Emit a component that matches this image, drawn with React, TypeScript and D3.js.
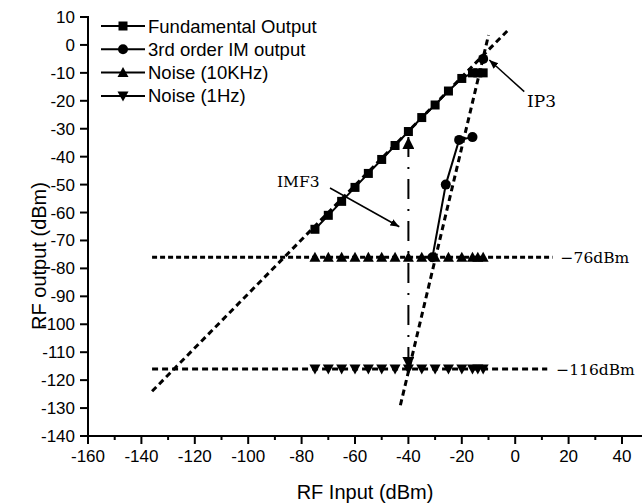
import React from "react";
import * as d3 from "d3";

const inputs = [-75, -70, -65, -60, -55, -50, -45, -40, -35, -30, -25, -20, -16, -14, -12];
const fundamental = [-66, -61, -56, -51, -46, -41, -36, -31, -26, -21.5, -16.5, -12, -10, -10, -10];
const noise10k = [-76, -76, -76, -76, -76, -76, -76, -76, -76, -76, -76, -76, -76, -76, -76];
const noise1hz = [-116, -116, -116, -116, -116, -116, -116, -116, -116, -116, -116, -116, -116, -116, -116];
const im3Inputs = [-31, -26, -21, -16, -12];
const im3 = [-76, -50, -34, -33, -5];
const fundExtrap: [number, number][] = [[-136, -124], [-3, 5]];
const im3Extrap: [number, number][] = [[-43, -129], [-10, 3.5]];
const noiseRef10k: [number, number][] = [[-136, -76], [14, -76]];
const noiseRef1hz: [number, number][] = [[-136, -116], [12, -116]];
const imf3Arrow: [number, number][] = [[-40, -33], [-40, -116]];
const xTicks = [-160, -140, -120, -100, -80, -60, -40, -20, 0, 20, 40];
const xMinor = [-150, -130, -110, -90, -70, -50, -30, -10, 10, 30];
const yTicks = [10, 0, -10, -20, -30, -40, -50, -60, -70, -80, -90, -100, -110, -120, -130, -140];
const legendLabels = ["Fundamental Output", "3rd order IM output", "Noise (10KHz)", "Noise (1Hz)"];

const W = 644;
const H = 504;
const x = d3.scaleLinear().domain([-160, 40]).range([88, 622]);
const y = d3.scaleLinear().domain([-140, 10]).range([436, 17]);
const line = d3.line<[number, number]>().x((d) => x(d[0])).y((d) => y(d[1]));
const sans = "'Liberation Sans', Arial, sans-serif";
const serif = "'DejaVu Serif', serif";

function Marker({ type, cx, cy }: { type: string; cx: number; cy: number }) {
  if (type === "square") return <rect x={cx - 4.5} y={cy - 4.5} width={9} height={9} fill="#000" />;
  if (type === "circle") return <circle cx={cx} cy={cy} r={5} fill="#000" />;
  const s = 5.5;
  if (type === "up")
    return <path d={`M${cx},${cy - s}L${cx + s},${cy + s * 0.8}L${cx - s},${cy + s * 0.8}Z`} fill="#000" />;
  return <path d={`M${cx},${cy + s}L${cx + s},${cy - s * 0.8}L${cx - s},${cy - s * 0.8}Z`} fill="#000" />;
}

export default function App() {
  const fundPts = inputs.map((v, i) => [v, fundamental[i]] as [number, number]);
  const im3Pts = im3Inputs.map((v, i) => [v, im3[i]] as [number, number]);
  const legendTypes = ["square", "circle", "up", "down"];
  return (
    <svg width={W} height={H} style={{ position: "absolute", left: 0, top: 0, background: "#fff" }}>
      <defs>
        <marker id="ah" viewBox="0 0 10 10" refX="10" refY="5" markerWidth="9" markerHeight="9" markerUnits="userSpaceOnUse" orient="auto">
          <path d="M0,1L10,5L0,9Z" fill="#000" />
        </marker>
        <marker id="ahBig" viewBox="0 0 10 10" refX="10" refY="5" markerWidth="14" markerHeight="12" markerUnits="userSpaceOnUse" orient="auto">
          <path d="M0,0L10,5L0,10Z" fill="#000" />
        </marker>
        <marker id="ahBigStart" viewBox="0 0 10 10" refX="0" refY="5" markerWidth="14" markerHeight="12" markerUnits="userSpaceOnUse" orient="auto">
          <path d="M10,0L0,5L10,10Z" fill="#000" />
        </marker>
      </defs>
      {/* axes */}
      <line x1={x(-160)} x2={642} y1={y(-140)} y2={y(-140)} stroke="#000" strokeWidth={2} />
      <line x1={x(-160)} x2={x(-160)} y1={y(-140)} y2={y(10) - 1} stroke="#000" strokeWidth={2} />
      {xTicks.map((t) => (
        <g key={"xt" + t}>
          <line x1={x(t)} x2={x(t)} y1={y(-140)} y2={y(-140) + 8} stroke="#000" strokeWidth={2} />
          <text x={x(t)} y={y(-140) + 26} textAnchor="middle" fontFamily={sans} fontSize={17}>
            {t}
          </text>
        </g>
      ))}
      {xMinor.map((t) => (
        <line key={"xm" + t} x1={x(t)} x2={x(t)} y1={y(-140)} y2={y(-140) + 4} stroke="#000" strokeWidth={2} />
      ))}
      {yTicks.map((t) => (
        <g key={"yt" + t}>
          <line x1={x(-160) - 8} x2={x(-160)} y1={y(t)} y2={y(t)} stroke="#000" strokeWidth={2} />
          <text x={x(-160) - 13} y={y(t) + 6} textAnchor="end" fontFamily={sans} fontSize={17}>
            {t}
          </text>
        </g>
      ))}
      <text x={365} y={499} textAnchor="middle" fontFamily={sans} fontSize={20}>
        RF Input (dBm)
      </text>
      <text transform={`translate(46,256) rotate(-90)`} textAnchor="middle" fontFamily={sans} fontSize={20}>
        RF output (dBm)
      </text>

      {/* reference dashed lines */}
      <path d={line(noiseRef10k) || ""} stroke="#000" strokeWidth={3} strokeDasharray="5 3" fill="none" />
      <path d={line(noiseRef1hz) || ""} stroke="#000" strokeWidth={3} strokeDasharray="6 4" fill="none" />
      <path d={line(fundExtrap) || ""} stroke="#000" strokeWidth={3} strokeDasharray="6 4" fill="none" />
      <path d={line(im3Extrap) || ""} stroke="#000" strokeWidth={3} strokeDasharray="6 4" fill="none" />

      {/* IMF3 dash-dot double arrow */}
      <path
        d={line(imf3Arrow) || ""}
        stroke="#000"
        strokeWidth={2}
        strokeDasharray="20 10 2 10"
        fill="none"
        markerEnd="url(#ahBig)"
        markerStart="url(#ahBigStart)"
      />

      {/* series lines */}
      <path d={line(fundPts) || ""} stroke="#000" strokeWidth={2} fill="none" />
      <path d={line(im3Pts.slice(0, 4)) || ""} stroke="#000" strokeWidth={2} fill="none" />

      {/* markers */}
      {fundPts.map((p, i) => (
        <Marker key={"f" + i} type="square" cx={x(p[0])} cy={y(p[1])} />
      ))}
      {im3Pts.map((p, i) => (
        <Marker key={"c" + i} type="circle" cx={x(p[0])} cy={y(p[1])} />
      ))}
      {inputs.map((v, i) => (
        <Marker key={"u" + i} type="up" cx={x(v)} cy={y(noise10k[i])} />
      ))}
      {inputs.map((v, i) => (
        <Marker key={"d" + i} type="down" cx={x(v)} cy={y(noise1hz[i])} />
      ))}

      {/* annotations */}
      <text x={x(14) + 8} y={y(-76) + 6} fontFamily={serif} fontSize={15.5}>
        −76dBm
      </text>
      <text x={x(12) + 9} y={y(-116) + 6} fontFamily={serif} fontSize={15.5}>
        −116dBm
      </text>
      <text x={277} y={187} fontFamily={serif} fontSize={15.5}>
        IMF3
      </text>
      <line x1={330} y1={188} x2={x(-43.4)} y2={y(-65.1)} stroke="#000" strokeWidth={1.5} markerEnd="url(#ah)" />
      <text x={527} y={107} fontFamily={serif} fontSize={17}>
        IP3
      </text>
      <line x1={x(3.4)} y1={y(-16.7)} x2={x(-9.7)} y2={y(-5.4)} stroke="#000" strokeWidth={1.5} markerEnd="url(#ah)" />

      {/* legend */}
      {legendLabels.map((lab, i) => {
        const cy = 26 + i * 23.3;
        return (
          <g key={lab}>
            <line x1={101} x2={145} y1={cy} y2={cy} stroke="#000" strokeWidth={2} />
            <Marker type={legendTypes[i]} cx={123} cy={cy} />
            <text x={148} y={cy + 6.5} fontFamily={sans} fontSize={18.5}>
              {lab}
            </text>
          </g>
        );
      })}
    </svg>
  );
}
